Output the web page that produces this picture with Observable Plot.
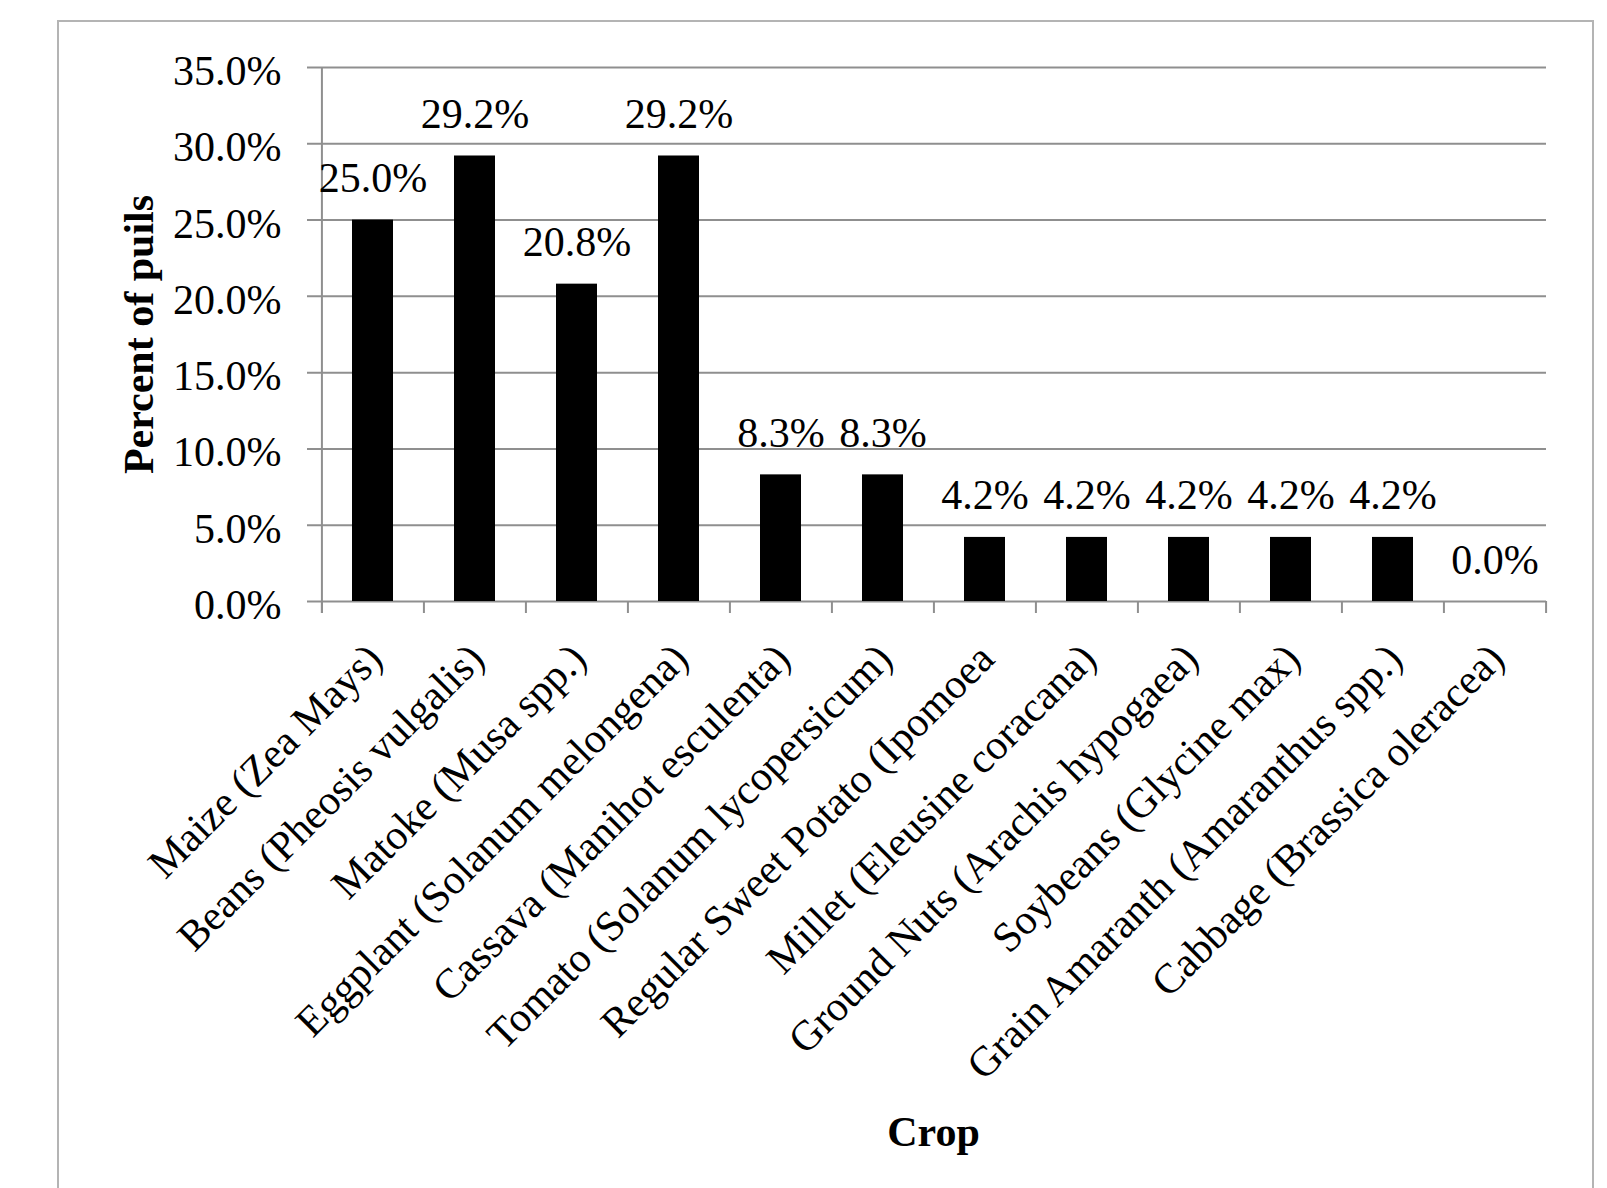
<!DOCTYPE html>
<html>
<head>
<meta charset="utf-8">
<script src="https://cdn.jsdelivr.net/npm/d3@7"></script>
<script src="https://cdn.jsdelivr.net/npm/@observablehq/plot@0.6"></script>
<style>
  html, body { margin: 0; padding: 0; background: #fff; overflow: hidden; }
  #wrap { position: relative; width: 1607px; height: 1188px; }
  #border { position: absolute; left: 57px; top: 20px; width: 1533px; height: 1200px;
            border: 2px solid #b4b4b4; border-bottom: none; }
  #chart { position: absolute; left: 0; top: 0; }
</style>
</head>
<body>
<div id="wrap"><div id="border"></div><div id="chart"></div></div>
<script>
const crops = [
  "Maize (Zea Mays)",
  "Beans (Pheosis vulgalis)",
  "Matoke (Musa spp.)",
  "Eggplant (Solanum melongena)",
  "Cassava (Manihot esculenta)",
  "Tomato (Solanum lycopersicum)",
  "Regular Sweet Potato (Ipomoea",
  "Millet (Eleusine coracana)",
  "Ground Nuts (Arachis hypogaea)",
  "Soybeans (Glycine max)",
  "Grain Amaranth (Amaranthus spp.)",
  "Cabbage (Brassica oleracea)"
];
const percents = [25.0, 29.2, 20.8, 29.2, 8.3, 8.3, 4.2, 4.2, 4.2, 4.2, 4.2, 0.0];
const yTicks = [0, 5, 10, 15, 20, 25, 30, 35];
const yTitle = "Percent of puils";
const xTitle = "Crop";

const data = crops.map((c, i) => ({crop: c, pct: percents[i]}));

const W = 1607, H = 1188;
const mL = 320, mR = 61, mT = 67, mB = 587;
const step = (W - mL - mR) / crops.length;
const plotH = H - mT - mB;
const grid = "#8f8f8f";
const font = "'Liberation Serif', 'Times New Roman', Times, serif";

const chart = Plot.plot({
  width: W, height: H,
  marginLeft: mL, marginRight: mR, marginTop: mT, marginBottom: mB,
  style: {fontFamily: font, fontSize: "42px", background: "transparent", color: "#000"},
  x: {domain: crops, paddingInner: 0.6, paddingOuter: 0.3, axis: null},
  y: {domain: [0, 35], axis: null},
  marks: [
    Plot.ruleY(yTicks, {y: d => d, stroke: grid, strokeWidth: 2, insetLeft: -13}),
    Plot.ruleX([crops[0]], {x: d => d, dx: -step / 2, stroke: grid, strokeWidth: 2, insetBottom: -12}),
    Plot.ruleX(crops, {x: d => d, dx: -step / 2, stroke: grid, strokeWidth: 2, insetTop: plotH, insetBottom: -12}),
    Plot.ruleX([crops[crops.length - 1]], {x: d => d, dx: step / 2, stroke: grid, strokeWidth: 2, insetTop: plotH, insetBottom: -12}),
    Plot.barY(data, {x: "crop", y: "pct", fill: "#000"}),
    Plot.text(data, {x: "crop", y: "pct", text: d => d.pct.toFixed(1) + "%", lineAnchor: "bottom", dy: -28, fill: "#000"}),
    Plot.text(yTicks, {y: d => d, frameAnchor: "left", textAnchor: "end", dx: -39, dy: 4, text: d => d.toFixed(1) + "%", fill: "#000"}),
    Plot.text(crops, {x: d => d, frameAnchor: "bottom", rotate: -45, textAnchor: "end", lineAnchor: "middle", dx: 2, dy: 50, text: d => d, fill: "#000"}),
    Plot.text([yTitle], {frameAnchor: "left", rotate: -90, textAnchor: "middle", lineAnchor: "middle", dx: -181, fontWeight: "bold", text: d => d, fill: "#000"}),
    Plot.text([xTitle], {frameAnchor: "bottom", textAnchor: "middle", lineAnchor: "bottom", dy: 544, fontWeight: "bold", text: d => d, fill: "#000"})
  ]
});
document.getElementById("chart").appendChild(chart);
</script>
</body>
</html>
